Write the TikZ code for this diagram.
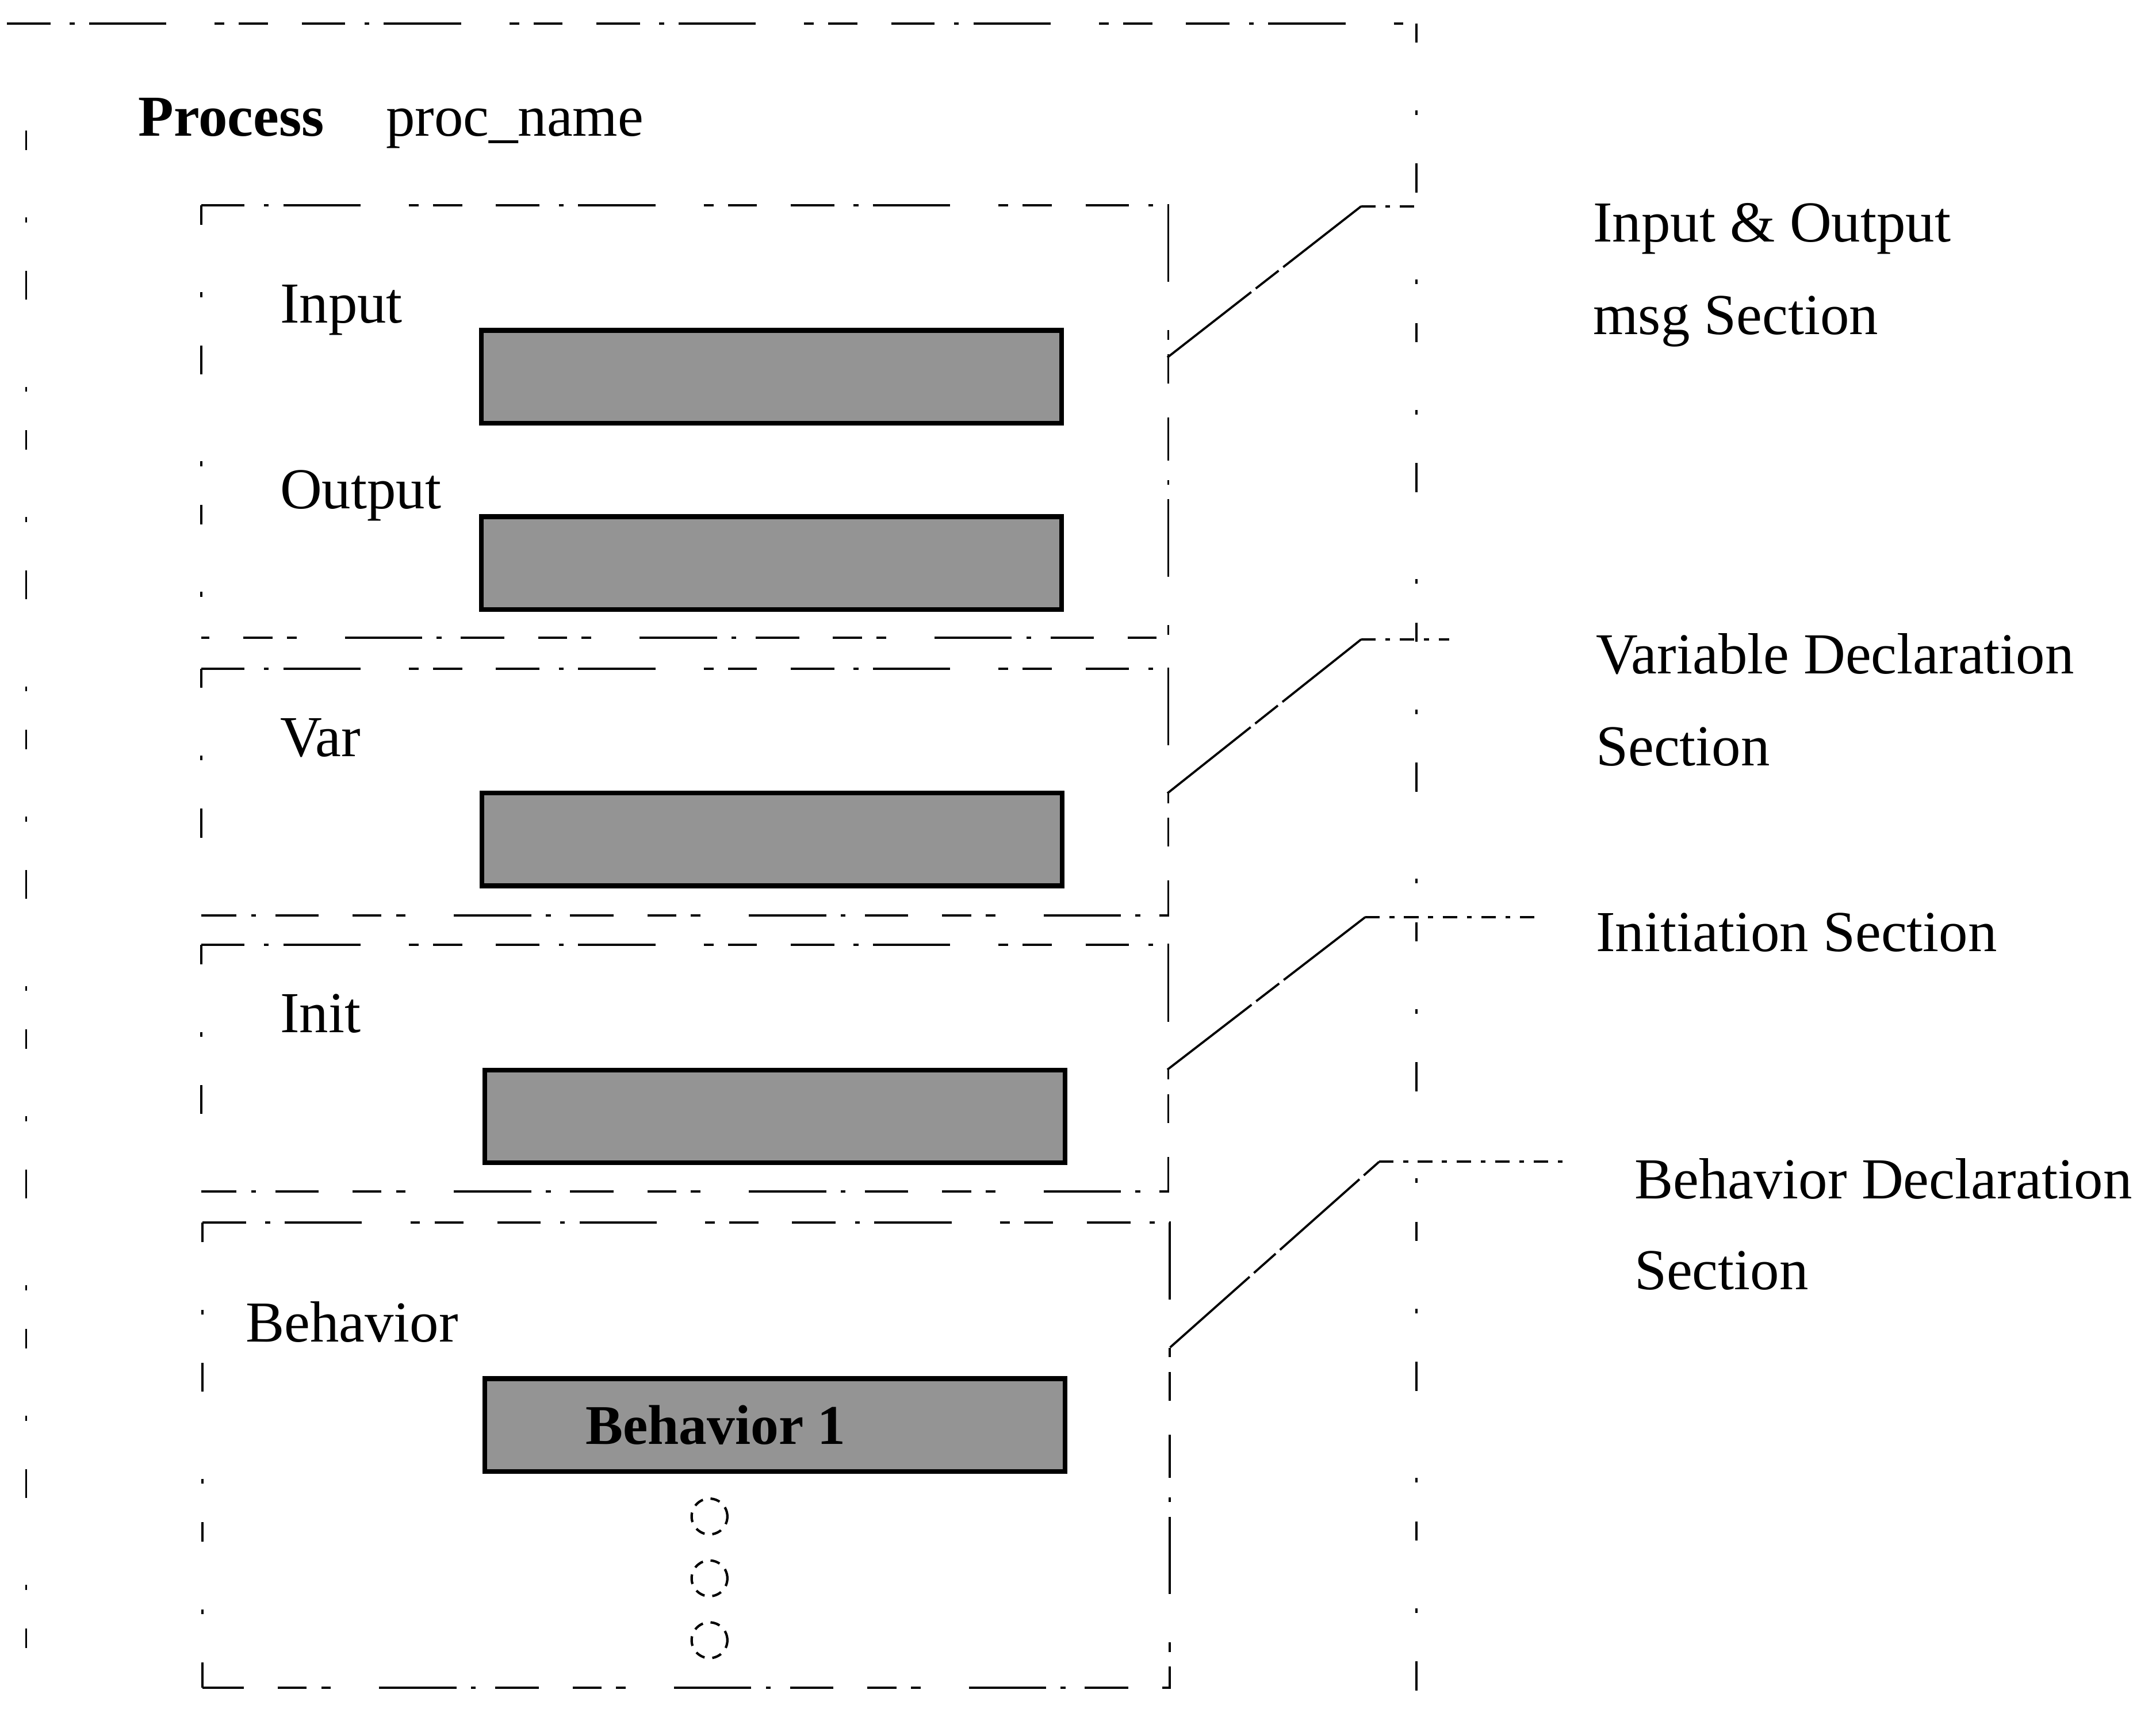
\documentclass[tikz,border=0pt]{standalone}
\usepackage{fontspec}
\setmainfont{Liberation Serif}
\begin{document}
\begin{tikzpicture}[x=0.1mm,y=-0.1mm,
  brokenline/.style={line width=0.45pt,
    dash pattern=on 9pt off 4pt on 1pt off 3pt on 16pt off 10pt on 2pt off 3pt on 6pt off 7pt},
  sparseline/.style={line width=0.45pt,
    dash pattern=on 4pt off 14pt on 1pt off 10pt on 6pt off 18pt on 1pt off 8pt},
  section/.style={rectangle, inner sep=0pt, minimum width=70.2mm},
  slab/.style={draw, line width=1pt, fill=black!42, rectangle, inner sep=0pt,
    minimum width=42.2mm, minimum height=6.75mm},
  leader/.style={line width=0.45pt, dash pattern=on 22pt off 1.2pt on 6pt off 1.2pt},
  shortleg/.style={line width=0.45pt, dash pattern=on 3pt off 2pt on 1pt off 2pt},
  lbl/.style={anchor=base west, inner sep=0pt, font=\fontsize{12}{14}\selectfont},
  dotc/.style={circle, draw, line width=0.5pt, dash pattern=on 2pt off 1.6pt,
    minimum size=2.6mm, inner sep=0pt}]
\useasboundingbox (0,0) rectangle (1568,1243);

% outer process frame
\draw[brokenline] (5,17) -- (1030,17);
\draw[sparseline] (19,95) -- (19,1243);
\draw[sparseline] (1030,17) -- (1030,1243);

\node[lbl, font=\fontsize{12}{14}\selectfont\bfseries] (proc) at (100,99) {Process};
\node[lbl] (pname) at (280,99) {proc\_name};

% the four sections
\node[section, minimum height=31.3mm] (secA) at (498,306.5) {};
\node[section, minimum height=17.8mm] (secB) at (498,576) {};
\node[section, minimum height=17.8mm] (secC) at (498,777) {};
\node[section, minimum height=33.7mm] (secD) at (499,1058.5) {};
\foreach \s in {secA,secB,secC,secD}{
  \draw[brokenline] (\s.north west) -- (\s.north east) -- (\s.south east) -- (\s.south west);
  \draw[sparseline] (\s.north west) -- (\s.south west);
}

% section keywords
\node[lbl] (kin)  at (203,235) {Input};
\node[lbl] (kout) at (203,370) {Output};
\node[lbl] (kvar) at (203,550) {Var};
\node[lbl] (kini) at (203,751) {Init};
\node[lbl] (kbeh) at (178,976) {Behavior};

% shaded slots
\node[slab] (sin)  at (561,274) {};
\node[slab] (sout) at (561,409.5) {};
\node[slab] (svar) at (561.5,610.5) {};
\node[slab] (sini) at (563.5,812) {};
\node[slab, font=\fontsize{11.6}{14}\selectfont\bfseries] (sb1) at (563.5,1036.5) {\hspace*{-8.6mm}Behavior 1};

% continuation marks
\node[dotc] (d1) at (516,1103) {};
\node[dotc] (d2) at (516,1148) {};
\node[dotc] (d3) at (516,1193) {};

% annotations on the right
\node[lbl] (t1a) at (1158,176) {Input \& Output};
\node[lbl] (t1b) at (1158,243) {msg Section};
\node[lbl] (t2a) at (1160,490) {Variable Declaration};
\node[lbl] (t2b) at (1160,557) {Section};
\node[lbl] (t3a) at (1160,692) {Initiation Section};
\node[lbl] (t4a) at (1188,872) {Behavior Declaration};
\node[lbl] (t4b) at (1188,938) {Section};

% leader lines
\coordinate (a1) at (849,260);  \coordinate (k1) at (990,150);  \coordinate (e1) at (1030,150);
\coordinate (a2) at (849,577);  \coordinate (k2) at (990,465);  \coordinate (e2) at (1054,465);
\coordinate (a3) at (849,778);  \coordinate (k3) at (993,667);  \coordinate (e3) at (1122,667);
\coordinate (a4) at (851,980);  \coordinate (k4) at (1003,845); \coordinate (e4) at (1143,845);
\draw[leader] (a1) -- (k1);  \draw[shortleg] (k1) -- (e1);
\draw[leader] (a2) -- (k2);  \draw[shortleg] (k2) -- (e2);
\draw[leader] (a3) -- (k3);  \draw[shortleg] (k3) -- (e3);
\draw[leader] (a4) -- (k4);  \draw[shortleg] (k4) -- (e4);
\end{tikzpicture}
\end{document}
